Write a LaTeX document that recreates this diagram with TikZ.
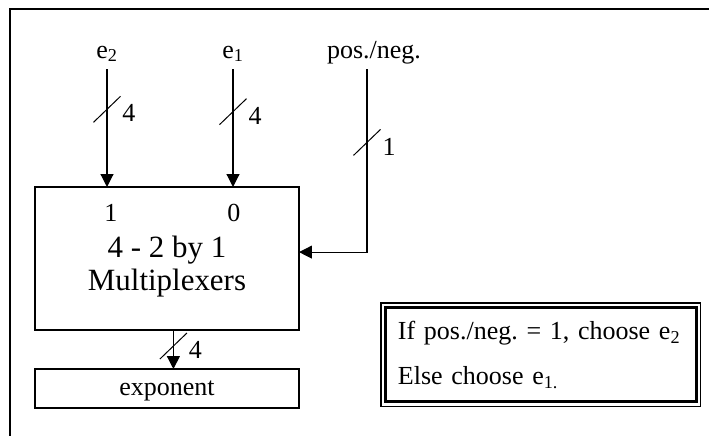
\documentclass[tikz,border=0pt]{standalone}
\usepackage{fontspec}
\setmainfont{Liberation Serif}
\usepackage{tikz}
\usetikzlibrary{calc}
\usetikzlibrary{positioning}
\usetikzlibrary{arrows.meta}
\frenchspacing
\tikzset{
  lbl/.style={font=\fontsize{18.5}{22}\selectfont, inner sep=0pt},
  sig/.style={lbl, anchor=base, text depth=0.14cm, inner ysep=0.135cm},
  bus/.style={line width=0.03cm, -{Triangle[length=0.32cm, width=0.32cm]}},
  blk/.style={draw, line width=0.035cm, outer sep=0pt},
}
% slash across a bus with its width next to it
\newcommand{\busmark}[2]{ \draw[line width=0.025cm] ($(#1)+(-13.5,13)$) -- ($(#1)+(13.5,-13)$); \node[lbl] at ($(#1)+(22,4)$) {#2};}

\begin{document}
\begin{tikzpicture}[x=0.025cm, y=-0.025cm]
    \useasboundingbox (0,0) rectangle (709,435);
    \draw[line width=0.05cm] (10,436) |- (710,9);
    % mux and result
    \node[blk, minimum width=6.6cm, minimum height=3.575cm] (mux) at (167,258.5) {};
    \node[blk, lbl, text depth=0pt, minimum width=6.6cm, minimum height=0.975cm, below=0.975cm of mux] (exponent) {exponent};
    \node[font=\fontsize{22}{23.5}\selectfont, align=center] (title) at ([yshift=-0.19cm]mux.center) {4 - 2 by 1\\Multiplexers};
    \node[lbl, anchor=base] (in1) at ($(mux.north west)+(76,35)$) {1};
    \node[lbl, anchor=base] (in0) at ($(mux.north west)+(199,35)$) {0};
    % inputs
    \node[sig] (e2) at (107,58) {e\textsubscript{2}};
    \node[sig] (e1) at (233,58) {e\textsubscript{1}};
    \node[sig] (sel) at (374,58) {pos./neg.};
    \draw[bus] (e2.south) -- coordinate[pos=0.34] (m2) (e2.south |- mux.north);
    \draw[bus] (e1.south) -- coordinate[pos=0.36] (m1) (e1.south |- mux.north);
    \draw[bus] ([xshift=-0.175cm]sel.south) |- coordinate[pos=0.2] (ms) ([yshift=0.16cm]mux.east);
    \draw[bus] ([xshift=0.16cm]mux.south) -- coordinate[pos=0.41] (mo) ([xshift=0.16cm]exponent.north);
    \busmark{m2}{4}
    \busmark{m1}{4}
    \busmark{ms}{1}
    \busmark{mo}{4}
    % select rule
    \node[draw, line width=0.075cm, outer sep=0pt, minimum width=7.76cm, minimum height=2.36cm, text width=7.14cm, inner xsep=0.31cm, align=left, font=\fontsize{18.5}{32}\selectfont] (note) at (540.75,354.75) {If pos./neg. = 1, choose e\textsubscript{2}\\Else choose e\textsubscript{1.}};
    \draw[line width=0.03cm] ([shift={(-4.5,-4.5)}]note.north west) rectangle ([shift={(4.5,4.5)}]note.south east);
\end{tikzpicture}
\end{document}
